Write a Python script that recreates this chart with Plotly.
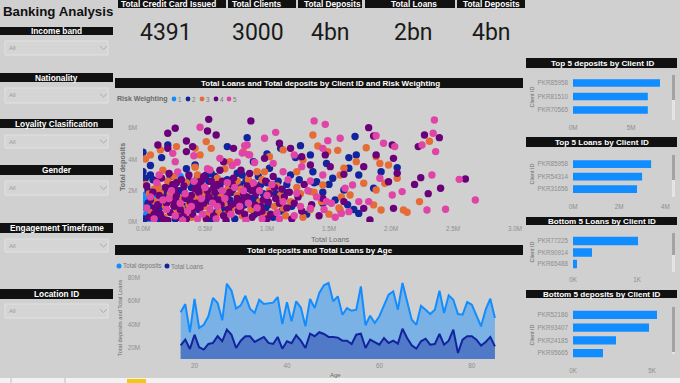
import plotly.graph_objects as go

W, H = 680, 383
BG = "#d0d0d0"
HEAD = "#111111"
SANS = "Liberation Sans, Arial"
TICK_C = "#8e8e8e"

# ---------------- data ----------------
KPI_TITLES = ["Total Credit Card Issued", "Total Clients", "Total Deposits", "Total Loans", "Total Deposits"]
KPI_VALUES = ["4391", "3000", "4bn", "2bn", "4bn"]

SLICERS = ["Income band", "Nationality", "Loyality Clasification", "Gender", "Engagement Timeframe", "Location ID"]

RISK_LEVELS = ["1", "2", "3", "4", "5"]
RISK_COLORS = ["#118DFF", "#12239E", "#E66C37", "#6B007B", "#E044A7"]

# (Total Loans M, Total deposits M) per client, by risk weighting
RISK_1 = [(0.00, 1.70), (0.01, 1.30), (0.03, 0.50), (0.05, 0.15), (0.02, 0.90), (0.07, 1.10), (0.10, 0.70),
          (0.00, 0.10), (0.04, 1.60), (0.12, 0.20), (0.30, 2.90), (0.50, 2.80), (0.09, 1.50), (0.14, 1.30)]
RISK_2 = [(0.00, 4.45), (0.00, 3.21), (0.15, 4.11), (0.20, 4.91), (0.84, 5.38), (0.68, 4.81), (1.00, 4.34),
          (1.11, 4.70), (1.27, 4.87), (1.23, 4.11), (1.71, 5.45), (1.66, 4.11), (1.72, 4.28), (1.66, 3.43),
          (1.74, 3.00), (1.92, 3.21), (1.86, 2.15), (2.05, 3.47), (1.74, 0.55), (1.62, 2.04), (1.53, 2.79),
          (1.48, 3.74), (1.40, 2.57), (1.37, 3.21), (1.35, 4.28), (1.19, 3.00), (1.02, 3.43), (0.89, 3.85),
          (0.76, 3.11), (0.51, 3.00), (0.42, 3.64), (0.06, 3.00), (1.45, 1.19),
          (0.01, 0.2), (0.04, 1.2), (0.08, 2.7), (0.11, 0.1), (0.15, 1.0), (0.19, 1.8), (0.22, 2.9), (0.26, 0.2),
          (0.30, 2.0), (0.34, 1.0), (0.37, 2.6), (0.41, 1.5), (0.45, 0.8), (0.48, 2.1), (0.52, 1.3), (0.55, 0.1),
          (0.58, 2.9), (0.62, 2.3), (0.66, 0.8), (0.70, 1.4), (0.74, 0.2), (0.78, 2.4), (0.82, 1.1), (0.86, 2.1),
          (0.90, 0.5), (0.93, 2.9), (0.97, 1.8), (1.01, 1.1), (1.05, 0.3), (1.09, 2.6), (1.14, 1.9), (1.20, 1.0),
          (1.26, 2.7), (1.32, 0.5), (1.38, 2.5), (1.45, 1.9), (1.50, 2.4), (1.55, 1.4), (1.65, 1.1), (1.70, 0.8),
          (0.35, 3.4), (0.55, 3.1), (0.80, 3.0), (1.00, 2.5), (0.04, 2.0), (0.06, 3.6), (0.02, 2.8),
          (0.44, 2.9), (0.60, 1.7), (0.68, 2.7), (0.87, 1.5), (0.95, 2.4), (0.72, 1.9), (0.39, 2.2), (1.12, 0.7),
          (0.07, 0.9), (0.13, 0.6), (0.21, 2.3), (0.28, 1.5), (0.33, 1.9), (0.47, 1.0), (0.53, 2.6), (0.59, 0.6),
          (0.64, 1.8), (0.75, 1.0), (0.83, 2.6), (0.91, 1.4), (0.99, 0.9), (1.07, 1.8), (1.16, 2.4)]
RISK_3 = [(0.51, 5.13), (1.37, 5.55), (1.41, 4.85), (1.49, 4.49), (1.57, 4.57), (1.72, 3.85), (1.80, 4.74),
          (1.88, 4.17), (1.98, 3.64), (1.91, 3.74), (2.05, 2.79), (1.95, 2.47), (1.88, 2.04), (1.86, 1.09),
          (1.92, 0.77), (2.10, 0.77), (2.13, 0.62), (2.23, 1.30), (2.31, 5.15), (1.62, 3.43), (1.59, 3.00),
          (1.67, 1.72), (1.78, 2.47), (1.59, 0.77), (1.24, 3.21), (1.13, 4.60), (1.02, 4.17), (0.92, 3.21),
          (0.81, 4.49), (0.70, 3.85), (0.55, 4.70), (0.42, 4.70), (0.27, 4.81), (0.14, 4.60), (0.06, 4.28),
          (0.02, 4.02), (0.46, 4.28), (1.29, 3.96), (1.45, 2.36), (1.35, 1.94),
          (0.02, 2.4), (0.07, 0.6), (0.10, 1.3), (0.14, 1.9), (0.17, 0.3), (0.20, 2.6), (0.24, 1.2), (0.28, 0.7),
          (0.32, 1.5), (0.35, 2.5), (0.39, 0.3), (0.43, 1.6), (0.46, 2.4), (0.50, 1.0), (0.52, 0.5), (0.56, 2.0),
          (0.61, 0.6), (0.65, 1.2), (0.69, 2.2), (0.72, 0.9), (0.76, 1.7), (0.80, 0.4), (0.83, 1.6), (0.87, 0.8),
          (0.90, 2.3), (0.94, 1.3), (0.98, 0.5), (1.02, 2.0), (1.06, 1.0), (1.11, 1.7), (1.15, 0.4), (1.19, 1.3),
          (1.24, 2.2), (1.29, 0.3), (1.35, 0.8), (1.38, 1.9), (1.44, 1.3), (1.50, 0.5), (1.58, 0.9), (1.60, 1.6),
          (0.44, 3.0), (0.60, 2.8), (0.76, 2.6), (0.98, 3.2), (0.25, 2.9), (0.66, 3.4), (0.42, 3.5),
          (0.09, 2.1), (0.18, 1.0), (0.31, 0.9), (0.48, 1.8), (0.63, 1.6), (0.85, 2.7), (1.08, 2.3), (0.16, 3.3),
          (0.05, 1.8), (0.12, 2.3), (0.22, 1.8), (0.37, 1.1), (0.54, 1.7), (0.67, 0.5), (0.79, 2.1), (0.96, 2.7),
          (1.13, 0.9), (1.27, 1.8)]
RISK_4 = [(0.20, 5.66), (0.26, 5.98), (0.53, 6.55), (0.52, 5.81), (0.59, 5.55), (0.87, 6.45), (0.35, 5.17),
          (0.40, 4.81), (0.12, 4.91), (0.20, 4.70), (1.10, 5.02), (1.19, 4.70), (1.28, 4.17), (1.47, 4.28),
          (1.51, 3.53), (1.62, 3.04), (1.82, 6.02), (1.86, 5.49), (1.88, 4.28), (1.78, 3.53), (2.01, 4.91),
          (2.02, 4.06), (2.05, 3.11), (1.98, 2.57), (2.22, 4.81), (2.27, 5.55), (2.39, 5.38), (2.24, 2.83),
          (2.19, 2.40), (2.40, 2.15), (2.30, 1.81), (2.60, 2.74), (2.02, 0.87), (1.83, 0.13), (1.78, 0.87),
          (1.62, 1.30), (1.45, 1.51), (1.35, 3.64), (0.98, 4.06), (0.73, 4.70), (0.65, 3.85), (0.35, 4.49),
          (0.05, 0.3), (0.12, 1.1), (0.18, 2.2), (0.22, 0.6), (0.27, 1.7), (0.31, 2.7), (0.35, 0.2), (0.38, 1.3),
          (0.42, 2.1), (0.46, 0.9), (0.49, 2.9), (0.53, 1.6), (0.57, 0.4), (0.60, 2.4), (0.63, 1.1), (0.67, 0.1),
          (0.70, 1.9), (0.73, 2.8), (0.77, 0.7), (0.80, 1.4), (0.84, 2.3), (0.88, 0.3), (0.91, 1.8), (0.95, 1.0),
          (0.99, 2.6), (1.03, 0.5), (1.07, 1.5), (1.12, 2.1), (1.16, 0.9), (1.20, 0.2), (1.25, 1.6), (1.30, 2.4),
          (0.08, 1.9), (0.15, 2.8), (0.20, 0.1), (0.25, 1.0), (0.29, 0.3), (0.33, 2.3), (0.40, 0.5), (0.45, 1.9),
          (0.51, 0.2), (0.55, 2.6), (0.62, 3.3), (0.69, 0.8), (0.75, 1.2), (0.82, 0.5), (0.86, 3.1), (0.93, 0.6),
          (0.97, 1.4), (1.05, 2.9), (1.10, 1.2), (1.18, 1.9), (1.28, 0.7), (1.36, 1.1), (1.42, 0.4), (0.14, 0.5),
          (0.37, 3.0), (0.58, 1.9), (0.79, 3.3), (1.00, 0.2),
          (0.10, 0.9), (0.17, 1.5), (0.24, 2.4), (0.28, 1.2), (0.33, 0.6), (0.43, 1.2), (0.47, 2.6), (0.56, 1.4),
          (0.64, 2.6), (0.71, 1.1), (0.81, 1.8), (0.92, 2.2), (1.02, 1.8), (0.21, 3.1), (0.11, 2.6), (0.06, 1.4),
          (0.03, 2.3), (0.09, 0.5), (0.13, 1.7), (0.19, 1.2), (0.23, 1.4), (0.26, 2.1), (0.30, 0.8), (0.34, 1.5),
          (0.39, 1.7), (0.41, 0.9), (0.44, 2.3), (0.49, 1.2), (0.52, 2.0), (0.57, 2.2), (0.61, 1.4), (0.65, 0.4),
          (0.68, 1.6), (0.72, 2.4), (0.76, 1.5), (0.79, 0.9), (0.84, 1.6), (0.88, 2.0), (0.90, 1.1), (0.96, 0.7),
          (1.01, 1.3), (1.06, 2.2), (1.14, 1.6), (1.22, 1.2), (0.16, 0.2), (0.27, 2.5)]
RISK_5 = [(0.46, 6.04), (0.82, 4.87), (1.07, 5.72), (0.98, 5.34), (1.38, 6.45), (1.47, 6.23), (1.49, 5.19),
          (1.59, 5.34), (1.88, 5.51), (1.94, 5.02), (2.03, 4.81), (2.25, 4.91), (2.35, 6.51), (2.34, 5.66),
          (2.36, 4.49), (2.33, 3.00), (2.55, 2.72), (2.68, 1.40), (2.44, 0.81), (2.29, 0.77), (2.09, 1.94),
          (2.01, 1.72), (1.82, 1.30), (1.69, 2.36), (1.63, 2.15), (1.60, 0.55), (1.66, 0.66), (1.74, 1.30),
          (1.45, 4.70), (1.22, 4.28), (1.28, 3.53), (1.13, 3.21), (1.05, 3.74), (0.86, 4.28), (0.84, 4.91),
          (0.76, 3.81), (0.62, 4.06), (0.41, 4.23), (0.24, 4.38), (0.26, 3.85), (0.54, 3.32), (1.35, 2.62),
          (1.45, 3.00), (1.24, 1.83), (1.48, 1.30), (1.91, 2.79), (1.35, 0.87),
          (0.03, 0.9), (0.09, 0.2), (0.11, 2.5), (0.16, 1.4), (0.19, 0.8), (0.23, 2.0), (0.26, 0.4), (0.30, 1.2),
          (0.34, 1.8), (0.36, 0.7), (0.41, 2.6), (0.44, 0.2), (0.47, 1.5), (0.50, 2.2), (0.54, 0.8), (0.56, 1.2),
          (0.59, 0.2), (0.64, 2.0), (0.66, 1.5), (0.71, 0.5), (0.74, 2.2), (0.78, 1.0), (0.81, 2.0), (0.85, 1.2),
          (0.89, 2.5), (0.92, 0.9), (0.96, 0.2), (1.00, 1.7), (1.04, 2.4), (1.08, 0.6), (1.13, 1.3), (1.17, 2.7),
          (1.22, 0.4), (1.27, 1.0), (1.33, 2.0), (1.40, 1.6), (1.46, 0.8), (1.52, 1.2), (1.55, 0.3), (0.06, 1.6),
          (0.13, 3.0), (0.21, 1.5), (0.28, 3.2), (0.39, 1.0), (0.48, 0.5), (0.60, 1.0), (0.68, 2.5), (0.83, 0.1),
          (0.94, 2.0), (1.10, 0.2), (0.32, 0.1), (0.52, 3.4), (0.72, 3.6), (0.90, 3.8), (0.85, 4.3), (0.80, 4.4)]
RISK_POINTS = [RISK_1, RISK_2, RISK_3, RISK_4, RISK_5]

SC_X_TICKS = [0, 0.5e6, 1.0e6, 1.5e6, 2.0e6, 2.5e6, 3.0e6]
SC_X_LABELS = ["0.0M", "0.5M", "1.0M", "1.5M", "2.0M", "2.5M", "3.0M"]
SC_Y_TICKS = [0, 2e6, 4e6, 6e6]
SC_Y_LABELS = ["0M", "2M", "4M", "6M"]

AGES = list(range(17, 86))
DEPOSITS_BY_AGE = [50.4, 57.4, 33.4, 61.7, 37.0, 39.8, 47.0, 62.6, 58.3, 43.6, 74.7, 68.8, 53.5, 56.3, 64.5,
                   53.5, 49.8, 61.1, 57.4, 58.0, 58.6, 63.4, 40.4, 58.9, 42.7, 59.7, 54.6, 38.5, 61.7, 54.0,
                   66.8, 73.4, 75.3, 59.7, 64.0, 48.3, 54.0, 51.7, 52.6, 72.5, 39.3, 47.5, 41.3, 47.0, 56.9,
                   65.4, 68.2, 52.6, 75.3, 58.3, 44.1, 39.8, 56.0, 52.6, 48.9, 52.6, 68.8, 49.8, 64.8, 61.1,
                   48.9, 48.3, 59.1, 56.9, 48.3, 38.5, 52.6, 62.0, 45.5]
LOANS_BY_AGE = [22.3, 27.1, 19.1, 31.3, 20.6, 18.6, 23.4, 24.3, 30.0, 25.7, 35.6, 31.3, 20.0, 26.2, 30.0,
                30.0, 25.1, 27.1, 29.4, 24.3, 23.4, 29.4, 19.4, 25.7, 24.0, 30.8, 26.2, 20.0, 32.2, 30.0,
                33.4, 31.9, 29.4, 29.4, 28.8, 26.2, 26.2, 23.4, 31.3, 32.2, 20.0, 27.1, 25.1, 22.8, 28.5,
                24.3, 26.2, 23.7, 36.4, 28.5, 22.3, 19.4, 25.7, 27.9, 22.8, 23.4, 31.9, 22.8, 26.2, 35.6,
                15.7, 27.1, 30.0, 30.0, 27.1, 22.0, 25.1, 29.4, 21.4]
AGE_TICKS = [20, 40, 60, 80]
AGE_Y_TICKS = [20e6, 40e6, 60e6, 80e6]
AGE_Y_LABELS = ["20M", "40M", "60M", "80M"]

TOP_DEP_IDS = ["PKR85958", "PKR81510", "PKR70565"]
TOP_DEP = [7.5e6, 6.45e6, 6.45e6]
TOP_LOAN_IDS = ["PKR85958", "PKR54314", "PKR31656"]
TOP_LOAN = [3.38e6, 2.99e6, 2.77e6]
BOT_LOAN_IDS = ["PKR77225", "PKR90914", "PKR65488"]
BOT_LOAN = [1016, 297, 62]
BOT_DEP_IDS = ["PKR52186", "PKR93407", "PKR24185", "PKR95665"]
BOT_DEP = [5316, 4810, 2722, 1899]


# ---------------- helpers ----------------
def px(x):
    return x / W


def py(y):
    return 1 - y / H


shapes = []
annotations = []


def rect(x0, y0, x1, y1, fill, line=None, lw=0):
    shapes.append(dict(type="rect", xref="paper", yref="paper", x0=px(x0), x1=px(x1), y0=py(y1), y1=py(y0),
                       fillcolor=fill, line=dict(color=line or fill, width=lw), layer="below"))


def txt(x, y, s, size, color, font=SANS, xanchor="center", angle=0, bold=False):
    annotations.append(dict(x=px(x), y=py(y), xref="paper", yref="paper", text=("<b>%s</b>" % s) if bold else s,
                            showarrow=False, xanchor=xanchor, yanchor="middle", textangle=angle,
                            font=dict(size=size, color=color, family=font), borderpad=0, borderwidth=0))


def dot(x, y, r, color):
    shapes.append(dict(type="circle", xref="paper", yref="paper", x0=px(x - r), x1=px(x + r),
                       y0=py(y + r), y1=py(y - r), fillcolor=color, line=dict(width=0)))


fig = go.Figure()

# ---------------- title & KPI cards ----------------
txt(3, 11, "Banking Analysis", 13.3, "#111", xanchor="left", bold=True)
kpi_bars = [(118, 226), (228, 296), (298, 362), (365, 455), (457, 525)]
kpi_txt_x = [168, 257, 332, 414, 491]
kpi_val_x = [166, 258, 330, 414, 491]
for (a, b), t, v, tx, vx in zip(kpi_bars, KPI_TITLES, KPI_VALUES, kpi_txt_x, kpi_val_x):
    rect(a, -2, b, 8, HEAD)
    txt(tx, 4.0, t, 8.3, "white", bold=True)
    txt(vx, 32.5, v, 23, "#1a1a1a", font="Roboto")

# ---------------- slicers ----------------
slicer_pos = [(27, 35, 41, 55), (73, 82, 88, 103), (119, 128, 135, 148), (165, 175, 181, 195),
              (223, 233, 239, 252), (289, 299, 304, 318)]
for name, (h0, h1, d0, d1) in zip(SLICERS, slicer_pos):
    rect(0, h0, 113, h1, HEAD)
    txt(57, (h0 + h1) / 2 + 0.2, name, 8.3, "white", bold=True)
    rect(5, d0, 108, d1, "#d5d5d5", "#e2e2e2", 1)
    txt(9, (d0 + d1) / 2, "All", 6, "#9a9a9a", xanchor="left")
    cy = (d0 + d1) / 2
    shapes.append(dict(type="path", xref="paper", yref="paper",
                       path="M %f %f L %f %f L %f %f" % (px(100), py(cy - 1.8), px(103.5), py(cy + 1.5),
                                                           px(107), py(cy - 1.8)),
                       line=dict(color="#ababab", width=1)))

# ---------------- scatter ----------------
rect(115, 78, 523, 88, HEAD)
txt(320, 83.2, "Total Loans and Total deposits by Client ID and Risk Weighting", 8.0, "white", bold=True)
txt(117, 99, "Risk Weighting", 7, "#6a6a6a", xanchor="left", bold=True)
leg_x = [174, 188, 202, 216, 229]
for lx, lab, col in zip(leg_x, RISK_LEVELS, RISK_COLORS):
    dot(lx, 99, 2.4, col)
    txt(lx + 3.5, 99, lab, 6.3, "#7a7a7a", xanchor="left")

for pts, lab, col in zip(RISK_POINTS, RISK_LEVELS, RISK_COLORS):
    fig.add_trace(go.Scatter(x=[p[0] * 1e6 for p in pts], y=[p[1] * 1e6 for p in pts], mode="markers",
                             name=lab, marker=dict(size=7.4, color=col, line=dict(width=0)),
                             xaxis="x", yaxis="y", showlegend=False))
txt(330, 239.5, "Total Loans", 7.5, "#6a6a6a")
txt(122, 167, "Total deposits", 7.2, "#6a6a6a", angle=-90, bold=True)

# ---------------- area chart ----------------
rect(115, 245, 523, 255, HEAD)
txt(319.5, 250.2, "Total deposits and Total Loans by Age", 8.0, "white", bold=True)
dot(119, 266, 2.5, "#118DFF")
txt(122.5, 266, "Total deposits", 6.3, "#7a7a7a", xanchor="left")
dot(167, 266, 2.5, "#12239E")
txt(170.5, 266, "Total Loans", 6.3, "#7a7a7a", xanchor="left")
fig.add_trace(go.Scatter(x=AGES, y=[v * 1e6 for v in DEPOSITS_BY_AGE], mode="lines", fill="tozeroy",
                         fillcolor="rgba(17,141,255,0.45)", line=dict(color="#118DFF", width=2),
                         xaxis="x2", yaxis="y2", showlegend=False))
fig.add_trace(go.Scatter(x=AGES, y=[v * 1e6 for v in LOANS_BY_AGE], mode="lines", fill="tozeroy",
                         fillcolor="rgba(18,35,158,0.40)", line=dict(color="#12239E", width=2),
                         xaxis="x2", yaxis="y2", showlegend=False))
txt(335, 374.5, "Age", 6, "#6a6a6a")
txt(120, 318, "Total deposits and Total Loans", 5.7, "#6a6a6a", angle=-90)

# ---------------- right bar charts ----------------
right = [
    ("Top 5 deposits by Client ID", 58, 68, TOP_DEP_IDS, TOP_DEP, "3", 0.57, 97),
    ("Top 5 Loans by Client ID", 137, 147, TOP_LOAN_IDS, TOP_LOAN, "4", 0.62, 174),
    ("Bottom 5 Loans by Client ID", 217, 225, BOT_LOAN_IDS, BOT_LOAN, "5", 0.72, 252),
    ("Bottom 5 deposits by Client ID", 290, 298, BOT_DEP_IDS, BOT_DEP, "6", 0.65, 335),
]
for title, h0, h1, ids, vals, k, wd, cy in right:
    rect(526, h0, 677, h1, HEAD)
    txt(602, (h0 + h1) / 2 + 0.2, title, 8.1, "white", bold=True)
    fig.add_trace(go.Bar(y=ids, x=vals, orientation="h", marker=dict(color="#118DFF", line=dict(width=0)),
                         width=wd, xaxis="x" + k, yaxis="y" + k, showlegend=False))
    txt(531.5, cy, "Client ID", 5.5, "#6a6a6a", angle=-90)

# scrollbars
for t0, t1, b1 in [(75, 120, 100), (155, 197, 180), (233, 272, 255), (307, 354, 352)]:
    rect(672, t0, 675, t1, "#e4e4e4")
    rect(672, t0, 675, b1, "#a3a3a3")

# bottom strip
rect(0, 378, 680, 384, "#f2f2f2")
rect(10.5, 378, 11.5, 384, "#bdbdbd")
rect(64.5, 378, 65.5, 384, "#bdbdbd")
rect(127, 379, 146, 384, "#F2C811")

# ---------------- axes ----------------
TF = dict(size=6.3, color=TICK_C, family=SANS)
base = dict(showgrid=False, zeroline=False, showline=False, ticks="", fixedrange=True, tickfont=TF,
            automargin=False)
layout_axes = dict(
    xaxis=dict(base, domain=[px(143), px(515)], range=[0, 3.0e6], tickvals=SC_X_TICKS, ticktext=SC_X_LABELS,
               anchor="y", ticklabelstandoff=2),
    yaxis=dict(base, domain=[py(222), py(114)], range=[0, 6.89e6], tickvals=SC_Y_TICKS, ticktext=SC_Y_LABELS,
               anchor="x", ticklabelstandoff=5),
    xaxis2=dict(base, domain=[px(146), px(500)], range=[9.5, 86.1], tickvals=AGE_TICKS, anchor="y2",
                ticklabelstandoff=2),
    yaxis2=dict(base, domain=[py(359), py(272)], range=[10.6e6, 84.7e6], tickvals=AGE_Y_TICKS,
                ticktext=AGE_Y_LABELS, anchor="x2", ticklabelstandoff=5),
    xaxis3=dict(base, domain=[px(573), px(668)], range=[0, 8.19e6], tickvals=[0, 5e6], ticktext=["0M", "5M"],
                anchor="y3", ticklabelstandoff=6),
    yaxis3=dict(base, domain=[py(116.75), py(76.25)], autorange="reversed", anchor="x3", ticklabelstandoff=4),
    xaxis4=dict(base, domain=[px(573), px(668)], range=[0, 4.11e6], tickvals=[0, 2e6, 4e6],
                ticktext=["0M", "2M", "4M"], anchor="y4", ticklabelstandoff=6),
    yaxis4=dict(base, domain=[py(195.25), py(157.75)], autorange="reversed", anchor="x4", ticklabelstandoff=4),
    xaxis5=dict(base, domain=[px(573), px(668)], range=[0, 1484], tickvals=[0, 1000], ticktext=["0K", "1K"],
                anchor="y5", ticklabelstandoff=5),
    yaxis5=dict(base, domain=[py(269.75), py(235.25)], autorange="reversed", anchor="x5", ticklabelstandoff=4),
    xaxis6=dict(base, domain=[px(573), px(668)], range=[0, 6013], tickvals=[0, 5000], ticktext=["0K", "5K"],
                anchor="y6", ticklabelstandoff=6),
    yaxis6=dict(base, domain=[py(359.4), py(308.6)], autorange="reversed", anchor="x6", ticklabelstandoff=4),
)

fig.update_layout(width=W, height=H, margin=dict(l=0, r=0, t=0, b=0, pad=0, autoexpand=False),
                  paper_bgcolor=BG, plot_bgcolor="rgba(0,0,0,0)", shapes=shapes, annotations=annotations,
                  showlegend=False, **layout_axes)
fig.write_html("out.html", config=dict(displayModeBar=False),
               post_script="document.documentElement.style.margin='0';document.documentElement.style.overflow='hidden';"
                           "document.body.style.margin='0';document.body.style.padding='0';"
                           "document.body.style.overflow='hidden';")
